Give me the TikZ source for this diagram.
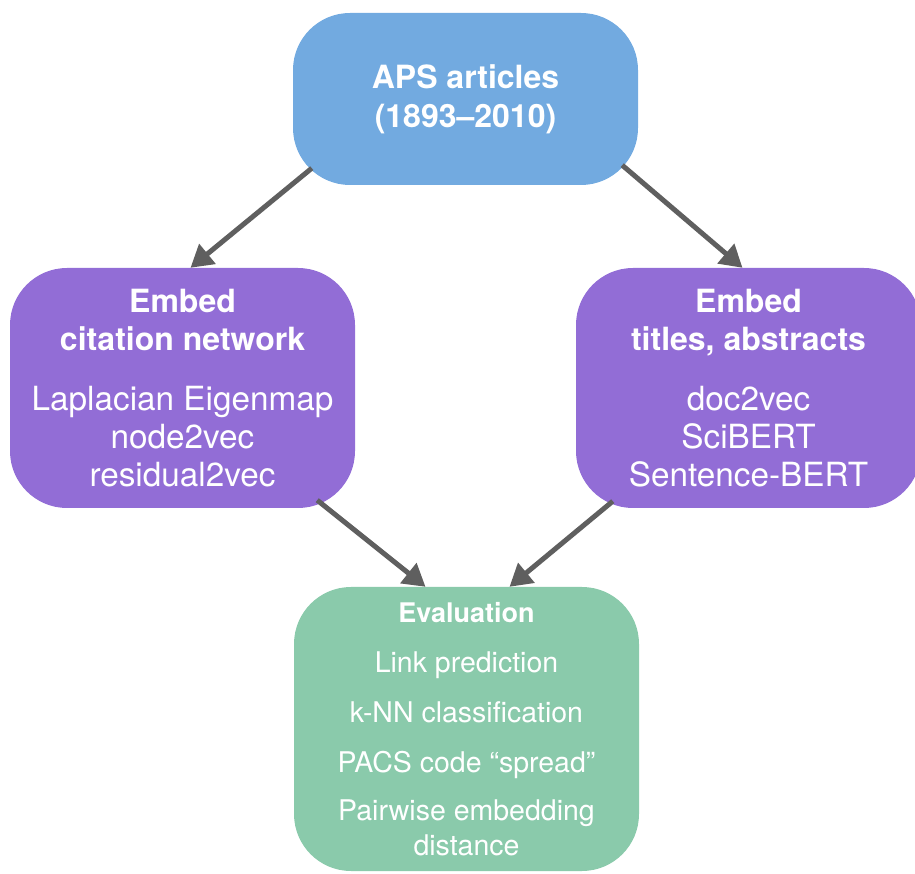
\documentclass[tikz,border=0pt]{standalone}
\usepackage{fontspec}
\setmainfont{TeX Gyre Heros}
\usetikzlibrary{arrows.meta}
\usetikzlibrary{positioning}

\definecolor{apsblue}{RGB}{114,170,224}
\definecolor{embpurple}{RGB}{146,109,214}
\definecolor{evalgreen}{RGB}{138,202,171}
\definecolor{arrgray}{RGB}{95,95,95}

\newcommand{\bodytext}{\fontsize{33.3}{38}\selectfont}
\newcommand{\evaltext}{\fontsize{28.5}{35}\selectfont}

\tikzset{
  box/.style={rounded corners=57pt, minimum width=345pt, inner sep=0pt,
              text=white, align=center, font=\fontsize{32}{38}\selectfont},
  flow/.style={arrgray, line width=5pt, -{Triangle[length=22pt,width=25pt]}}
}

\begin{document}
\begin{tikzpicture}[x=1pt,y=1pt]
      \useasboundingbox (0,0) rectangle (915,873);
      \node[box,fill=apsblue,minimum height=172pt,
            font=\fontsize{32}{39}\selectfont\bfseries] (aps) at (465.5,774)
            {APS articles\\(1893–2010)};
      \node[box,fill=embpurple,minimum height=240pt] (cit) at (182.5,485)
            {\textbf{Embed}\\\textbf{citation network}\\[22pt]
             \bodytext Laplacian Eigenmap\\\bodytext node2vec\\\bodytext residual2vec};
      \node[box,fill=embpurple,minimum height=240pt] (txt) at (748.5,485)
            {\textbf{Embed}\\\textbf{titles, abstracts}\\[22pt]
             \bodytext doc2vec\\\bodytext SciBERT\\\bodytext Sentence-BERT};
      \node[box,fill=evalgreen,minimum height=284pt,
            font=\evaltext] (evl) at (466.5,144)
            {\fontsize{27}{35}\selectfont\textbf{Evaluation}\\[15pt] Link prediction\\[15pt]
             k-NN classification\\[15pt] PACS code “spread”\\[13pt]
             Pairwise embedding\\distance};
      \coordinate (s1) at ([shift={(19,17)}]aps.south west);
      \coordinate (e1) at ([xshift=8]cit.north);
      \coordinate (s2) at ([shift={(-16,20)}]aps.south east);
      \coordinate (e2) at ([xshift=-6]txt.north);
      \coordinate (s3) at ([shift={(-38,8)}]cit.south east);
      \coordinate (e3) at ([xshift=-41]evl.north);
      \coordinate (s4) at ([shift={(37,7)}]txt.south west);
      \coordinate (e4) at ([xshift=43]evl.north);
      \foreach\i in {1,...,4} {
	\draw[flow] (s\i) -- (e\i);
      }
    \end{tikzpicture}
\end{document}
